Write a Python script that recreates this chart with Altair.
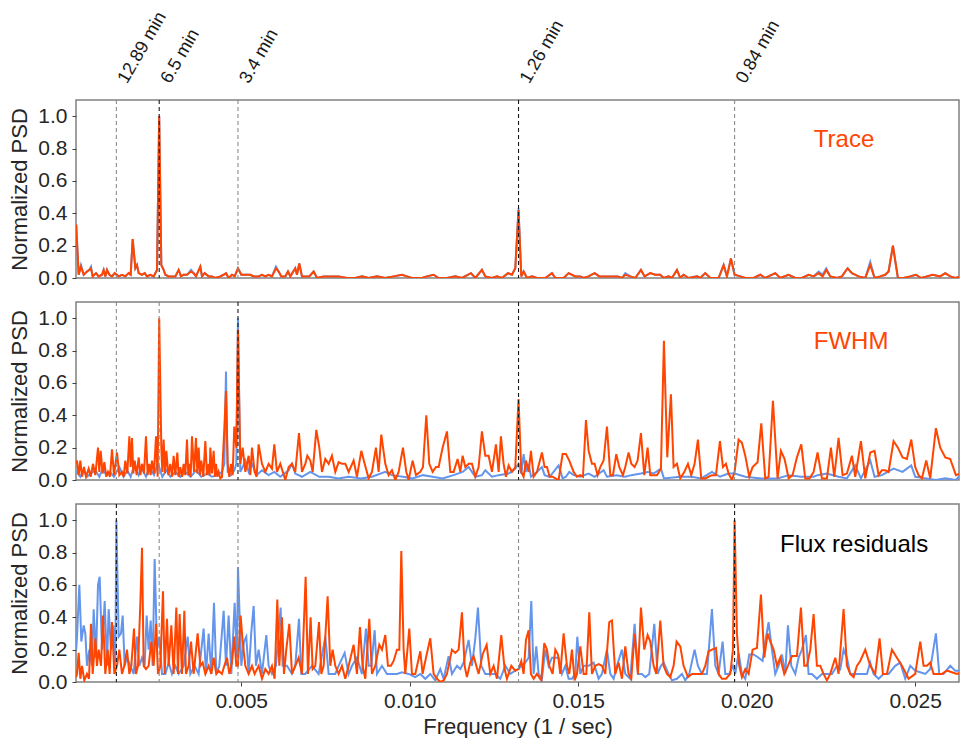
import altair as alt
import pandas as pd

FONT = "Liberation Sans"
ORANGE = "#FF4500"
BLUE = "#6495ED"

# Each series: [frequency in mHz, normalized PSD]
TRACE_ORANGE = [
    [0.1, 0.33], [0.174, 0.02], [0.243, 0.07], [0.323, 0.02], [0.421, 0.04], [0.491, 0.05], [0.540, 0.06],
    [0.590, 0.01], [0.689, 0.03], [0.768, 0.01], [0.867, 0.02], [0.916, 0.05], [0.965, 0.01], [1.015, 0.05],
    [1.084, 0.02], [1.163, 0.01], [1.242, 0.03], [1.361, 0.01], [1.460, 0.02], [1.559, 0.01], [1.658, 0.03],
    [1.717, 0.02], [1.777, 0.24], [1.856, 0.06], [1.905, 0.08], [1.955, 0.03], [2.054, 0.02], [2.133, 0.03],
    [2.202, 0.01], [2.301, 0.02], [2.400, 0.01], [2.499, 0.05], [2.564, 1.0], [2.627, 0.08], [2.696, 0.05],
    [2.746, 0.02], [2.845, 0.01], [2.944, 0.01], [3.043, 0.01], [3.142, 0.05], [3.211, 0.01], [3.290, 0.02],
    [3.389, 0.02], [3.508, 0.04], [3.587, 0.03], [3.656, 0.01], [3.784, 0.07], [3.834, 0.01], [3.913, 0.03],
    [4.032, 0.01], [4.131, 0.01], [4.230, 0.0], [4.378, 0.01], [4.477, 0.02], [4.546, 0.03], [4.625, 0.0],
    [4.724, 0.02], [4.803, 0.01], [4.902, 0.06], [5.001, 0.02], [5.120, 0.02], [5.268, 0.02], [5.367, 0.01],
    [5.515, 0.01], [5.614, 0.02], [5.713, 0.01], [5.812, 0.02], [5.911, 0.01], [6.030, 0.06], [6.109, 0.04],
    [6.188, 0.01], [6.307, 0.01], [6.386, 0.04], [6.455, 0.01], [6.603, 0.06], [6.653, 0.02], [6.722, 0.09],
    [6.801, 0.01], [6.900, 0.01], [7.019, 0.01], [7.147, 0.04], [7.246, 0.0], [7.444, 0.01], [7.642, 0.01],
    [7.889, 0.01], [8.137, 0.0], [8.383, 0.0], [8.582, 0.01], [8.780, 0.0], [9.027, 0.01], [9.274, 0.0],
    [9.521, 0.01], [9.769, 0.02], [9.917, 0.01], [10.065, 0.0], [10.362, 0.0], [10.510, 0.01], [10.708, 0.02],
    [10.857, 0.0], [11.104, 0.0], [11.351, 0.01], [11.549, 0.0], [11.816, 0.03], [11.945, 0.0], [12.142, 0.05],
    [12.241, 0.01], [12.439, 0.0], [12.588, 0.01], [12.736, 0.0], [12.914, 0.03], [13.033, 0.02], [13.132, 0.06],
    [13.228, 0.42], [13.310, 0.01], [13.379, 0.04], [13.478, 0.0], [13.626, 0.01], [13.775, 0.0], [14.022, 0.0],
    [14.220, 0.03], [14.319, 0.0], [14.566, 0.0], [14.715, 0.03], [14.912, 0.01], [15.061, 0.01], [15.160, 0.0],
    [15.308, 0.01], [15.486, 0.03], [15.625, 0.01], [15.803, 0.01], [16.000, 0.01], [16.178, 0.01], [16.297, 0.0],
    [16.396, 0.02], [16.544, 0.01], [16.693, 0.0], [16.861, 0.05], [16.970, 0.01], [17.138, 0.03], [17.286, 0.02],
    [17.435, 0.02], [17.534, 0.0], [17.682, 0.01], [17.781, 0.0], [17.929, 0.05], [18.028, 0.0], [18.127, 0.02],
    [18.275, 0.0], [18.523, 0.01], [18.622, 0.0], [18.770, 0.03], [18.918, 0.0], [19.166, 0.0], [19.314, 0.08],
    [19.413, 0.01], [19.532, 0.12], [19.640, 0.02], [19.809, 0.01], [19.957, 0.0], [20.204, 0.0], [20.402, 0.02],
    [20.550, 0.0], [20.847, 0.03], [20.995, 0.0], [21.243, 0.02], [21.441, 0.0], [21.638, 0.0], [21.836, 0.02],
    [21.985, 0.01], [22.133, 0.03], [22.252, 0.01], [22.360, 0.05], [22.479, 0.01], [22.677, 0.0], [22.825, 0.01],
    [22.993, 0.06], [23.122, 0.03], [23.320, 0.01], [23.518, 0.0], [23.666, 0.08], [23.795, 0.0], [23.963, 0.01],
    [24.111, 0.02], [24.210, 0.04], [24.339, 0.2], [24.487, 0.0], [24.655, 0.0], [24.853, 0.01], [25.021, 0.02],
    [25.179, 0.0], [25.348, 0.01], [25.516, 0.02], [25.743, 0.01], [25.892, 0.03], [26.040, 0.01], [26.188, 0.0],
    [26.366, 0.01],
]

TRACE_BLUE = [
    [0.1, 0.33], [0.174, 0.02], [0.243, 0.08], [0.323, 0.02], [0.421, 0.04], [0.491, 0.05], [0.540, 0.07],
    [0.590, 0.01], [0.689, 0.03], [0.768, 0.01], [0.867, 0.02], [0.916, 0.05], [0.965, 0.01], [1.015, 0.05],
    [1.084, 0.02], [1.163, 0.01], [1.242, 0.03], [1.361, 0.01], [1.460, 0.02], [1.559, 0.01], [1.658, 0.03],
    [1.717, 0.02], [1.777, 0.24], [1.856, 0.06], [1.905, 0.08], [1.955, 0.03], [2.054, 0.02], [2.133, 0.03],
    [2.202, 0.01], [2.301, 0.02], [2.400, 0.01], [2.499, 0.05], [2.564, 1.0], [2.627, 0.08], [2.696, 0.05],
    [2.746, 0.02], [2.845, 0.01], [2.944, 0.01], [3.043, 0.01], [3.142, 0.05], [3.211, 0.01], [3.290, 0.02],
    [3.389, 0.02], [3.508, 0.05], [3.587, 0.03], [3.656, 0.01], [3.784, 0.07], [3.834, 0.01], [3.913, 0.03],
    [4.032, 0.01], [4.131, 0.01], [4.230, 0.0], [4.378, 0.01], [4.477, 0.02], [4.546, 0.03], [4.625, 0.0],
    [4.724, 0.02], [4.803, 0.01], [4.902, 0.06], [5.001, 0.02], [5.120, 0.02], [5.268, 0.02], [5.367, 0.01],
    [5.515, 0.01], [5.614, 0.02], [5.713, 0.01], [5.812, 0.02], [5.911, 0.01], [6.030, 0.07], [6.109, 0.04],
    [6.188, 0.01], [6.307, 0.01], [6.386, 0.04], [6.455, 0.01], [6.603, 0.06], [6.653, 0.02], [6.722, 0.09],
    [6.801, 0.01], [6.900, 0.01], [7.019, 0.01], [7.147, 0.04], [7.246, 0.0], [7.444, 0.01], [7.642, 0.01],
    [7.889, 0.01], [8.137, 0.0], [8.383, 0.0], [8.582, 0.01], [8.780, 0.0], [9.027, 0.01], [9.274, 0.0],
    [9.521, 0.01], [9.769, 0.02], [9.917, 0.01], [10.065, 0.0], [10.362, 0.0], [10.510, 0.01], [10.708, 0.02],
    [10.857, 0.0], [11.104, 0.0], [11.351, 0.01], [11.549, 0.0], [11.816, 0.03], [11.945, 0.0], [12.142, 0.05],
    [12.241, 0.01], [12.439, 0.0], [12.588, 0.01], [12.736, 0.0], [12.914, 0.03], [13.033, 0.02], [13.132, 0.06],
    [13.228, 0.43], [13.310, 0.01], [13.379, 0.04], [13.478, 0.0], [13.626, 0.01], [13.775, 0.0], [14.022, 0.0],
    [14.220, 0.03], [14.319, 0.0], [14.566, 0.0], [14.715, 0.03], [14.912, 0.01], [15.061, 0.01], [15.160, 0.0],
    [15.308, 0.01], [15.486, 0.03], [15.625, 0.01], [15.803, 0.01], [16.000, 0.01], [16.178, 0.01], [16.297, 0.0],
    [16.396, 0.03], [16.544, 0.01], [16.693, 0.0], [16.861, 0.05], [16.970, 0.01], [17.138, 0.03], [17.286, 0.02],
    [17.435, 0.02], [17.534, 0.0], [17.682, 0.01], [17.781, 0.0], [17.929, 0.05], [18.028, 0.0], [18.127, 0.02],
    [18.275, 0.0], [18.523, 0.01], [18.622, 0.0], [18.770, 0.03], [18.918, 0.0], [19.166, 0.0], [19.314, 0.08],
    [19.413, 0.01], [19.532, 0.12], [19.640, 0.02], [19.809, 0.01], [19.957, 0.0], [20.204, 0.0], [20.402, 0.02],
    [20.550, 0.0], [20.847, 0.03], [20.995, 0.0], [21.243, 0.02], [21.441, 0.0], [21.638, 0.0], [21.836, 0.02],
    [21.985, 0.01], [22.133, 0.04], [22.252, 0.02], [22.360, 0.06], [22.479, 0.01], [22.677, 0.0], [22.825, 0.01],
    [22.993, 0.06], [23.122, 0.03], [23.320, 0.01], [23.518, 0.0], [23.666, 0.1], [23.795, 0.0], [23.963, 0.01],
    [24.111, 0.02], [24.210, 0.04], [24.339, 0.2], [24.487, 0.0], [24.655, 0.0], [24.853, 0.01], [25.021, 0.02],
    [25.179, 0.0], [25.348, 0.01], [25.516, 0.02], [25.743, 0.01], [25.892, 0.03], [26.040, 0.01], [26.188, 0.0],
    [26.366, 0.01],
]

FWHM_ORANGE = [
    [0.1, 0.1], [0.125, 0.12], [0.174, 0.03], [0.224, 0.12], [0.273, 0.02], [0.332, 0.08], [0.392, 0.02],
    [0.471, 0.07], [0.530, 0.02], [0.599, 0.1], [0.669, 0.03], [0.748, 0.2], [0.787, 0.05], [0.827, 0.18],
    [0.886, 0.04], [0.936, 0.11], [0.995, 0.02], [1.045, 0.05], [1.104, 0.02], [1.163, 0.19], [1.223, 0.03],
    [1.312, 0.17], [1.381, 0.03], [1.460, 0.05], [1.509, 0.02], [1.559, 0.12], [1.618, 0.04], [1.678, 0.27],
    [1.717, 0.08], [1.757, 0.26], [1.796, 0.04], [1.836, 0.12], [1.895, 0.03], [1.955, 0.14], [2.004, 0.03],
    [2.054, 0.1], [2.113, 0.04], [2.172, 0.27], [2.222, 0.03], [2.271, 0.1], [2.311, 0.03], [2.350, 0.12],
    [2.410, 0.04], [2.469, 0.27], [2.518, 0.02], [2.564, 1.0], [2.627, 0.2], [2.657, 0.05], [2.696, 0.25],
    [2.736, 0.04], [2.776, 0.18], [2.835, 0.03], [2.894, 0.1], [2.944, 0.02], [2.993, 0.15], [3.043, 0.03],
    [3.102, 0.17], [3.142, 0.02], [3.191, 0.08], [3.240, 0.02], [3.290, 0.1], [3.339, 0.03], [3.389, 0.25],
    [3.428, 0.03], [3.458, 0.1], [3.498, 0.02], [3.537, 0.27], [3.597, 0.05], [3.656, 0.26], [3.695, 0.04],
    [3.735, 0.2], [3.775, 0.03], [3.814, 0.12], [3.873, 0.02], [3.933, 0.24], [3.982, 0.03], [4.032, 0.1],
    [4.061, 0.03], [4.081, 0.2], [4.131, 0.04], [4.180, 0.18], [4.220, 0.02], [4.249, 0.1], [4.289, 0.02],
    [4.328, 0.05], [4.378, 0.01], [4.427, 0.02], [4.497, 0.32], [4.546, 0.55], [4.596, 0.1], [4.645, 0.02],
    [4.694, 0.1], [4.744, 0.03], [4.793, 0.33], [4.853, 0.2], [4.902, 0.93], [4.971, 0.1], [5.041, 0.2],
    [5.120, 0.05], [5.219, 0.15], [5.268, 0.03], [5.318, 0.2], [5.397, 0.05], [5.456, 0.02], [5.515, 0.22],
    [5.614, 0.1], [5.713, 0.05], [5.812, 0.1], [5.911, 0.07], [5.980, 0.22], [6.059, 0.05], [6.158, 0.1],
    [6.307, 0.0], [6.406, 0.08], [6.505, 0.1], [6.603, 0.05], [6.712, 0.29], [6.801, 0.05], [6.900, 0.1],
    [6.960, 0.15], [7.049, 0.12], [7.118, 0.05], [7.227, 0.31], [7.316, 0.2], [7.395, 0.05], [7.494, 0.13],
    [7.593, 0.1], [7.691, 0.15], [7.790, 0.05], [7.889, 0.11], [7.988, 0.1], [8.087, 0.1], [8.186, 0.05],
    [8.334, 0.12], [8.433, 0.02], [8.562, 0.18], [8.661, 0.1], [8.780, 0.01], [8.878, 0.05], [8.997, 0.2],
    [9.076, 0.05], [9.155, 0.28], [9.274, 0.1], [9.373, 0.03], [9.472, 0.06], [9.571, 0.0], [9.670, 0.05],
    [9.798, 0.2], [9.897, 0.05], [9.966, 0.0], [10.085, 0.12], [10.184, 0.03], [10.313, 0.05], [10.392, 0.08],
    [10.491, 0.4], [10.580, 0.1], [10.679, 0.05], [10.778, 0.08], [10.857, 0.08], [10.975, 0.2], [11.104, 0.3],
    [11.203, 0.05], [11.302, 0.05], [11.420, 0.13], [11.500, 0.05], [11.569, 0.15], [11.648, 0.08], [11.747, 0.1],
    [11.846, 0.1], [11.945, 0.02], [12.044, 0.08], [12.142, 0.3], [12.241, 0.15], [12.340, 0.15], [12.439, 0.05],
    [12.558, 0.22], [12.637, 0.05], [12.706, 0.27], [12.785, 0.1], [12.855, 0.02], [12.934, 0.09], [13.033, 0.05],
    [13.132, 0.08], [13.228, 0.5], [13.310, 0.05], [13.379, 0.02], [13.448, 0.12], [13.528, 0.05], [13.597, 0.18],
    [13.676, 0.02], [13.775, 0.05], [13.923, 0.17], [14.002, 0.08], [14.072, 0.08], [14.151, 0.02], [14.240, 0.02],
    [14.319, 0.01], [14.418, 0.0], [14.536, 0.16], [14.635, 0.16], [14.734, 0.12], [14.863, 0.05], [14.962, 0.02],
    [15.061, 0.03], [15.140, 0.02], [15.229, 0.37], [15.308, 0.18], [15.407, 0.1], [15.486, 0.1], [15.575, 0.03],
    [15.654, 0.08], [15.753, 0.12], [15.852, 0.33], [15.951, 0.03], [16.030, 0.03], [16.129, 0.16], [16.218, 0.08],
    [16.327, 0.03], [16.396, 0.08], [16.495, 0.17], [16.574, 0.1], [16.673, 0.08], [16.762, 0.12], [16.861, 0.29],
    [16.960, 0.03], [17.059, 0.2], [17.138, 0.03], [17.237, 0.03], [17.336, 0.03], [17.454, 0.07], [17.543, 0.86],
    [17.642, 0.14], [17.751, 0.53], [17.830, 0.08], [17.929, 0.1], [18.028, 0.01], [18.147, 0.05], [18.256, 0.1],
    [18.354, 0.03], [18.453, 0.1], [18.552, 0.25], [18.651, 0.01], [18.770, 0.01], [18.869, 0.02], [18.968, 0.03],
    [19.086, 0.03], [19.205, 0.24], [19.294, 0.08], [19.383, 0.1], [19.462, 0.04], [19.561, 0.0], [19.640, 0.05],
    [19.759, 0.25], [19.858, 0.23], [19.957, 0.15], [20.076, 0.02], [20.174, 0.08], [20.323, 0.11], [20.432, 0.35],
    [20.550, 0.01], [20.649, 0.02], [20.778, 0.49], [20.916, 0.01], [21.015, 0.18], [21.124, 0.13], [21.243, 0.01],
    [21.361, 0.03], [21.490, 0.14], [21.619, 0.22], [21.737, 0.01], [21.866, 0.01], [21.985, 0.05], [22.103, 0.17],
    [22.232, 0.01], [22.380, 0.01], [22.499, 0.2], [22.598, 0.02], [22.726, 0.26], [22.845, 0.03], [22.974, 0.04],
    [23.122, 0.15], [23.221, 0.02], [23.389, 0.24], [23.518, 0.01], [23.666, 0.17], [23.795, 0.18], [23.913, 0.03],
    [24.012, 0.06], [24.111, 0.06], [24.210, 0.05], [24.358, 0.24], [24.487, 0.2], [24.625, 0.14], [24.754, 0.13],
    [24.883, 0.25], [25.001, 0.08], [25.100, 0.03], [25.199, 0.01], [25.328, 0.12], [25.446, 0.01], [25.615, 0.32],
    [25.743, 0.2], [25.892, 0.14], [26.040, 0.13], [26.208, 0.03], [26.337, 0.04],
]

FWHM_BLUE = [
    [0.1, 0.05], [0.125, 0.05], [0.224, 0.02], [0.323, 0.06], [0.421, 0.02], [0.530, 0.04], [0.669, 0.06],
    [0.787, 0.02], [0.886, 0.07], [0.995, 0.03], [1.104, 0.05], [1.223, 0.02], [1.381, 0.08], [1.509, 0.02],
    [1.618, 0.06], [1.717, 0.02], [1.836, 0.1], [1.955, 0.03], [2.054, 0.07], [2.172, 0.02], [2.271, 0.08],
    [2.410, 0.03], [2.518, 0.1], [2.564, 0.08], [2.657, 0.02], [2.776, 0.06], [2.894, 0.02], [3.043, 0.05],
    [3.191, 0.02], [3.339, 0.05], [3.498, 0.02], [3.656, 0.06], [3.814, 0.02], [3.982, 0.04], [4.131, 0.02],
    [4.289, 0.03], [4.427, 0.05], [4.497, 0.1], [4.546, 0.67], [4.596, 0.05], [4.694, 0.03], [4.793, 0.06],
    [4.853, 0.1], [4.902, 1.0], [4.971, 0.05], [5.041, 0.08], [5.120, 0.12], [5.219, 0.05], [5.318, 0.1],
    [5.456, 0.03], [5.614, 0.06], [5.812, 0.03], [5.980, 0.05], [6.158, 0.02], [6.406, 0.06], [6.505, 0.1],
    [6.603, 0.04], [6.801, 0.02], [7.049, 0.05], [7.316, 0.02], [7.593, 0.02], [7.889, 0.01], [8.186, 0.02],
    [8.562, 0.01], [8.878, 0.02], [9.274, 0.05], [9.472, 0.03], [9.798, 0.02], [10.085, 0.01], [10.392, 0.03],
    [10.679, 0.02], [10.975, 0.01], [11.302, 0.03], [11.569, 0.05], [11.747, 0.08], [11.945, 0.02], [12.142, 0.03],
    [12.241, 0.06], [12.439, 0.02], [12.637, 0.03], [12.934, 0.04], [13.132, 0.07], [13.228, 0.1], [13.310, 0.04],
    [13.379, 0.16], [13.448, 0.05], [13.528, 0.1], [13.597, 0.02], [13.775, 0.05], [13.923, 0.08], [14.002, 0.03],
    [14.151, 0.02], [14.418, 0.09], [14.536, 0.01], [14.635, 0.02], [14.734, 0.05], [14.863, 0.03], [15.061, 0.02],
    [15.308, 0.04], [15.486, 0.02], [15.753, 0.06], [15.852, 0.02], [16.129, 0.03], [16.396, 0.02], [16.574, 0.03],
    [16.861, 0.04], [17.059, 0.05], [17.237, 0.04], [17.454, 0.07], [17.543, 0.01], [18.028, 0.02], [18.354, 0.02],
    [18.651, 0.01], [18.968, 0.05], [19.205, 0.02], [19.462, 0.04], [19.640, 0.04], [19.957, 0.02], [20.432, 0.01],
    [20.916, 0.01], [21.243, 0.03], [21.619, 0.02], [21.985, 0.02], [22.103, 0.03], [22.380, 0.04], [22.726, 0.02],
    [22.974, 0.01], [23.221, 0.09], [23.389, 0.01], [23.666, 0.12], [23.795, 0.02], [24.012, 0.03], [24.358, 0.07],
    [24.625, 0.05], [24.883, 0.09], [25.001, 0.02], [25.328, 0.01], [25.615, 0.0], [25.892, 0.01], [26.208, 0.0],
    [26.337, 0.03],
]

FLUX_ORANGE = [
    [0.1, 0.03], [0.125, 0.05], [0.174, 0.18], [0.224, 0.02], [0.273, 0.1], [0.342, 0.01], [0.421, 0.05],
    [0.481, 0.02], [0.540, 0.36], [0.590, 0.05], [0.669, 0.27], [0.718, 0.1], [0.768, 0.2], [0.837, 0.1],
    [0.896, 0.41], [0.965, 0.05], [1.035, 0.2], [1.094, 0.05], [1.163, 0.37], [1.233, 0.05], [1.312, 0.1],
    [1.381, 0.2], [1.460, 0.05], [1.529, 0.1], [1.608, 0.2], [1.678, 0.05], [1.737, 0.1], [1.816, 0.33],
    [1.875, 0.05], [1.935, 0.1], [2.004, 0.48], [2.054, 0.83], [2.103, 0.1], [2.172, 0.08], [2.251, 0.1],
    [2.330, 0.25], [2.400, 0.1], [2.469, 0.36], [2.528, 0.05], [2.598, 0.1], [2.677, 0.56], [2.726, 0.05],
    [2.795, 0.39], [2.845, 0.1], [2.924, 0.35], [2.993, 0.05], [3.072, 0.46], [3.122, 0.05], [3.171, 0.42],
    [3.240, 0.05], [3.310, 0.44], [3.359, 0.05], [3.438, 0.1], [3.508, 0.25], [3.587, 0.05], [3.705, 0.3],
    [3.784, 0.1], [3.854, 0.12], [3.933, 0.05], [4.032, 0.1], [4.111, 0.05], [4.180, 0.15], [4.259, 0.05],
    [4.328, 0.07], [4.427, 0.05], [4.497, 0.1], [4.576, 0.15], [4.645, 0.05], [4.724, 0.12], [4.793, 0.28],
    [4.853, 0.1], [4.902, 0.1], [4.981, 0.41], [5.041, 0.25], [5.120, 0.1], [5.219, 0.05], [5.318, 0.1],
    [5.397, 0.05], [5.515, 0.1], [5.614, 0.02], [5.713, 0.08], [5.812, 0.05], [5.911, 0.1], [5.990, 0.02],
    [6.069, 0.51], [6.129, 0.1], [6.208, 0.4], [6.267, 0.05], [6.336, 0.2], [6.425, 0.36], [6.505, 0.05],
    [6.603, 0.1], [6.702, 0.15], [6.801, 0.05], [6.910, 0.65], [6.979, 0.05], [7.058, 0.4], [7.118, 0.08],
    [7.197, 0.1], [7.306, 0.37], [7.375, 0.05], [7.444, 0.1], [7.563, 0.53], [7.642, 0.1], [7.711, 0.2],
    [7.790, 0.1], [7.889, 0.05], [7.988, 0.1], [8.087, 0.02], [8.186, 0.1], [8.334, 0.23], [8.433, 0.05],
    [8.522, 0.34], [8.601, 0.1], [8.681, 0.02], [8.799, 0.39], [8.878, 0.05], [8.977, 0.1], [9.096, 0.23],
    [9.175, 0.2], [9.274, 0.29], [9.353, 0.1], [9.442, 0.1], [9.521, 0.13], [9.620, 0.2], [9.690, 0.2],
    [9.749, 0.81], [9.818, 0.2], [9.868, 0.05], [9.986, 0.33], [10.065, 0.05], [10.164, 0.05], [10.313, 0.19],
    [10.382, 0.05], [10.481, 0.15], [10.609, 0.27], [10.708, 0.05], [10.807, 0.02], [10.906, 0.0], [11.005, 0.01],
    [11.104, 0.05], [11.252, 0.2], [11.351, 0.18], [11.450, 0.2], [11.549, 0.43], [11.628, 0.1], [11.697, 0.03],
    [11.796, 0.12], [11.895, 0.16], [12.044, 0.05], [12.162, 0.17], [12.281, 0.23], [12.390, 0.05], [12.489, 0.1],
    [12.588, 0.02], [12.716, 0.29], [12.815, 0.08], [12.884, 0.02], [13.013, 0.1], [13.132, 0.07], [13.228, 0.08],
    [13.310, 0.13], [13.379, 0.05], [13.448, 0.26], [13.528, 0.32], [13.597, 0.05], [13.676, 0.02], [13.775, 0.05],
    [13.903, 0.01], [13.992, 0.24], [14.072, 0.2], [14.141, 0.1], [14.240, 0.05], [14.319, 0.2], [14.398, 0.17],
    [14.467, 0.05], [14.566, 0.3], [14.665, 0.1], [14.734, 0.05], [14.813, 0.2], [14.892, 0.01], [14.962, 0.05],
    [15.061, 0.22], [15.160, 0.05], [15.239, 0.05], [15.328, 0.43], [15.407, 0.05], [15.506, 0.1], [15.605, 0.11],
    [15.704, 0.1], [15.803, 0.05], [15.921, 0.37], [16.000, 0.38], [16.099, 0.05], [16.198, 0.12], [16.297, 0.02],
    [16.396, 0.22], [16.495, 0.05], [16.574, 0.02], [16.673, 0.3], [16.772, 0.05], [16.861, 0.46], [16.960, 0.2],
    [17.059, 0.29], [17.138, 0.25], [17.237, 0.1], [17.316, 0.05], [17.435, 0.38], [17.534, 0.1], [17.632, 0.05],
    [17.731, 0.03], [17.830, 0.1], [17.919, 0.25], [18.028, 0.22], [18.127, 0.1], [18.256, 0.03], [18.374, 0.05],
    [18.473, 0.05], [18.572, 0.05], [18.671, 0.05], [18.770, 0.1], [18.869, 0.19], [18.968, 0.2], [19.086, 0.21],
    [19.166, 0.05], [19.264, 0.02], [19.383, 0.02], [19.512, 0.05], [19.591, 0.2], [19.640, 1.0], [19.710, 0.3],
    [19.779, 0.1], [19.858, 0.03], [19.957, 0.08], [20.056, 0.05], [20.174, 0.2], [20.303, 0.21], [20.422, 0.54],
    [20.521, 0.15], [20.620, 0.3], [20.699, 0.25], [20.798, 0.2], [20.897, 0.1], [20.995, 0.15], [21.114, 0.05],
    [21.223, 0.1], [21.342, 0.16], [21.490, 0.16], [21.609, 0.46], [21.708, 0.1], [21.787, 0.1], [21.886, 0.2],
    [21.985, 0.42], [22.083, 0.1], [22.182, 0.1], [22.281, 0.05], [22.380, 0.01], [22.479, 0.05], [22.628, 0.15],
    [22.726, 0.05], [22.875, 0.45], [22.974, 0.1], [23.073, 0.05], [23.172, 0.03], [23.270, 0.1], [23.369, 0.13],
    [23.518, 0.2], [23.666, 0.1], [23.814, 0.05], [23.943, 0.27], [24.042, 0.05], [24.161, 0.05], [24.309, 0.2],
    [24.457, 0.15], [24.606, 0.1], [24.804, 0.02], [25.001, 0.05], [25.150, 0.25], [25.249, 0.1], [25.348, 0.1],
    [25.446, 0.12], [25.545, 0.05], [25.644, 0.05], [25.793, 0.05], [25.941, 0.07], [26.089, 0.06], [26.238, 0.05],
    [26.366, 0.06],
]

FLUX_BLUE = [
    [0.1, 0.2], [0.125, 0.28], [0.194, 0.6], [0.253, 0.25], [0.323, 0.35], [0.372, 0.3], [0.421, 0.1],
    [0.491, 0.2], [0.570, 0.1], [0.619, 0.45], [0.689, 0.15], [0.748, 0.6], [0.797, 0.65], [0.867, 0.2],
    [0.946, 0.5], [1.015, 0.1], [1.064, 0.45], [1.134, 0.2], [1.203, 0.35], [1.262, 0.1], [1.293, 1.0],
    [1.361, 0.28], [1.430, 0.3], [1.480, 0.41], [1.539, 0.1], [1.608, 0.15], [1.707, 0.1], [1.806, 0.05],
    [1.905, 0.28], [1.974, 0.1], [2.054, 0.15], [2.133, 0.1], [2.192, 0.41], [2.251, 0.2], [2.311, 0.38],
    [2.370, 0.1], [2.429, 0.76], [2.499, 0.2], [2.568, 0.28], [2.647, 0.05], [2.746, 0.05], [2.845, 0.12],
    [2.944, 0.05], [3.043, 0.1], [3.142, 0.05], [3.290, 0.1], [3.409, 0.28], [3.488, 0.05], [3.616, 0.1],
    [3.735, 0.05], [3.883, 0.33], [3.953, 0.05], [4.032, 0.3], [4.111, 0.05], [4.190, 0.49], [4.259, 0.05],
    [4.348, 0.1], [4.477, 0.44], [4.546, 0.1], [4.625, 0.41], [4.704, 0.05], [4.803, 0.49], [4.872, 0.15],
    [4.902, 0.71], [5.001, 0.1], [5.080, 0.25], [5.149, 0.28], [5.219, 0.05], [5.298, 0.31], [5.367, 0.47],
    [5.436, 0.1], [5.515, 0.2], [5.614, 0.05], [5.743, 0.29], [5.812, 0.1], [5.911, 0.05], [6.030, 0.1],
    [6.168, 0.46], [6.228, 0.1], [6.356, 0.1], [6.505, 0.05], [6.603, 0.1], [6.712, 0.39], [6.781, 0.05],
    [6.900, 0.05], [7.098, 0.1], [7.296, 0.05], [7.494, 0.28], [7.593, 0.05], [7.790, 0.05], [7.889, 0.1],
    [8.067, 0.18], [8.186, 0.05], [8.285, 0.1], [8.433, 0.15], [8.582, 0.05], [8.700, 0.33], [8.780, 0.1],
    [8.859, 0.1], [8.958, 0.32], [9.027, 0.05], [9.175, 0.1], [9.324, 0.05], [9.472, 0.05], [9.620, 0.05],
    [9.769, 0.06], [9.966, 0.05], [10.164, 0.03], [10.313, 0.05], [10.461, 0.02], [10.609, 0.05], [10.758, 0.01],
    [10.906, 0.08], [11.005, 0.02], [11.153, 0.16], [11.252, 0.05], [11.401, 0.1], [11.500, 0.08], [11.599, 0.12],
    [11.747, 0.26], [11.846, 0.1], [11.945, 0.27], [12.024, 0.46], [12.123, 0.1], [12.241, 0.05], [12.390, 0.05],
    [12.538, 0.05], [12.687, 0.02], [12.835, 0.1], [12.983, 0.05], [13.132, 0.07], [13.228, 0.08], [13.310, 0.1],
    [13.429, 0.12], [13.528, 0.15], [13.607, 0.5], [13.676, 0.05], [13.755, 0.22], [13.824, 0.05], [13.923, 0.02],
    [14.022, 0.2], [14.121, 0.1], [14.220, 0.15], [14.319, 0.15], [14.418, 0.15], [14.517, 0.05], [14.616, 0.1],
    [14.715, 0.02], [14.813, 0.02], [14.912, 0.05], [14.972, 0.28], [15.061, 0.05], [15.160, 0.1], [15.308, 0.1],
    [15.456, 0.12], [15.605, 0.02], [15.704, 0.05], [15.852, 0.2], [15.951, 0.05], [16.050, 0.02], [16.149, 0.1],
    [16.297, 0.2], [16.396, 0.05], [16.544, 0.02], [16.673, 0.36], [16.772, 0.05], [16.891, 0.05], [16.990, 0.03],
    [17.108, 0.05], [17.257, 0.36], [17.356, 0.05], [17.454, 0.1], [17.534, 0.12], [17.682, 0.05], [17.781, 0.01],
    [17.929, 0.02], [18.078, 0.05], [18.176, 0.01], [18.295, 0.05], [18.453, 0.2], [18.552, 0.1], [18.671, 0.05],
    [18.819, 0.05], [18.968, 0.45], [19.067, 0.1], [19.166, 0.05], [19.284, 0.25], [19.363, 0.05], [19.482, 0.05],
    [19.591, 0.1], [19.660, 0.05], [19.759, 0.18], [19.858, 0.05], [19.957, 0.02], [20.076, 0.17], [20.204, 0.17],
    [20.353, 0.15], [20.471, 0.13], [20.550, 0.25], [20.649, 0.37], [20.748, 0.2], [20.847, 0.05], [20.946, 0.1],
    [21.045, 0.17], [21.144, 0.05], [21.223, 0.35], [21.322, 0.1], [21.441, 0.05], [21.539, 0.15], [21.638, 0.2],
    [21.757, 0.29], [21.836, 0.05], [21.935, 0.05], [22.083, 0.02], [22.232, 0.05], [22.380, 0.05], [22.529, 0.05],
    [22.677, 0.1], [22.776, 0.08], [22.875, 0.2], [22.974, 0.15], [23.073, 0.05], [23.221, 0.05], [23.369, 0.05],
    [23.468, 0.05], [23.567, 0.05], [23.666, 0.12], [23.765, 0.05], [23.913, 0.02], [24.062, 0.05], [24.210, 0.05],
    [24.408, 0.1], [24.556, 0.12], [24.705, 0.02], [24.853, 0.1], [25.001, 0.07], [25.150, 0.06], [25.298, 0.05],
    [25.446, 0.08], [25.615, 0.3], [25.714, 0.05], [25.842, 0.05], [26.040, 0.1], [26.188, 0.07], [26.366, 0.07],
]

PERIOD_LABELS = ["12.89 min", "6.5 min", "3.4 min", "1.26 min", "0.84 min"]
PERIOD_FREQ_MHZ = [1.293, 2.564, 4.902, 13.228, 19.64]

PANEL_NAMES = ["Trace", "FWHM", "Flux residuals"]
PANEL_DARK_LINES = {
    "Trace": ["6.5 min", "1.26 min"],
    "FWHM": ["3.4 min", "1.26 min"],
    "Flux residuals": ["12.89 min", "0.84 min"],
}
PANEL_LABEL_FREQ_MHZ = {"Trace": 21.99, "FWHM": 21.99, "Flux residuals": 20.99}
PANEL_LABEL_Y = {"Trace": 0.855, "FWHM": 0.851, "Flux residuals": 0.849}
PANEL_LABEL_COLOR = {"Trace": ORANGE, "FWHM": ORANGE, "Flux residuals": "#000000"}

X_DOMAIN = [0.000095, 0.0263]
X_TICKS = [0.005, 0.010, 0.015, 0.020, 0.025]
Y_TICKS = [0.0, 0.2, 0.4, 0.6, 0.8, 1.0]


def to_df(pairs):
    return pd.DataFrame({"freq": [p[0] / 1000.0 for p in pairs], "psd": [p[1] for p in pairs]})


def make_panel(name, orange, blue, show_x, show_periods):
    xs = alt.Scale(domain=X_DOMAIN, nice=False, zero=False)
    ys = alt.Scale(domain=[0, 1.1], nice=False)
    if show_x:
        x_axis = alt.Axis(values=X_TICKS, format=".3f", title="Frequency (1 / sec)",
                          tickSize=4, labelPadding=4, titlePadding=5)
    else:
        x_axis = None
    y_axis = alt.Axis(values=Y_TICKS, format=".1f", title="Normalized PSD",
                      tickSize=4, labelPadding=5, titlePadding=6)
    X = alt.X("freq:Q", scale=xs, axis=x_axis)
    Y = alt.Y("psd:Q", scale=ys, axis=y_axis)

    blue_line = alt.Chart(to_df(blue)).mark_line(color=BLUE, strokeWidth=2, clip=True).encode(x=X, y=Y)
    orange_line = alt.Chart(to_df(orange)).mark_line(color=ORANGE, strokeWidth=2, clip=True).encode(x=X, y=Y)

    pdf = pd.DataFrame({
        "label": PERIOD_LABELS,
        "freq": [f / 1000.0 for f in PERIOD_FREQ_MHZ],
        "dark": [lab in PANEL_DARK_LINES[name] for lab in PERIOD_LABELS],
    })
    grey_rules = alt.Chart(pdf[~pdf["dark"]]).mark_rule(
        color="#8c8c8c", strokeWidth=1.1, strokeDash=[4, 3]).encode(x=X)
    dark_rules = alt.Chart(pdf[pdf["dark"]]).mark_rule(
        color="#1a1a1a", strokeWidth=1.1, strokeDash=[4, 3]).encode(x=X)

    ann = pd.DataFrame({"freq": [PANEL_LABEL_FREQ_MHZ[name] / 1000.0],
                        "psd": [PANEL_LABEL_Y[name]], "text": [name]})
    label = alt.Chart(ann).mark_text(align="left", baseline="middle", fontSize=24, font=FONT,
                                     color=PANEL_LABEL_COLOR[name]).encode(x=X, y=Y, text="text:N")

    layers = [blue_line, orange_line, grey_rules, dark_rules, label]
    if show_periods:
        period_text = alt.Chart(pdf).mark_text(
            angle=300, align="left", baseline="alphabetic", fontSize=18, font=FONT,
            color="#1a1a1a", dx=11, dy=6).encode(x=X, y=alt.value(-9), text="label:N")
        layers.append(period_text)
    return alt.layer(*layers).properties(width=883, height=178)


p1 = make_panel("Trace", TRACE_ORANGE, TRACE_BLUE, show_x=False, show_periods=True)
p2 = make_panel("FWHM", FWHM_ORANGE, FWHM_BLUE, show_x=False, show_periods=False)
p3 = make_panel("Flux residuals", FLUX_ORANGE, FLUX_BLUE, show_x=True, show_periods=False)

chart = alt.vconcat(p1, p2, p3, spacing=11).properties(
    padding={"left": 0, "top": 0, "right": 0, "bottom": 0}
).configure_view(
    stroke="#808080", strokeWidth=1.5
).configure_axis(
    labelFont=FONT, titleFont=FONT, labelFontSize=21, titleFontSize=22,
    labelColor="#262626", titleColor="#262626", tickColor="#404040",
    titleFontWeight="normal", domain=False, grid=False
)

chart.save("out.html", embed_options={"renderer": "svg", "actions": False})
